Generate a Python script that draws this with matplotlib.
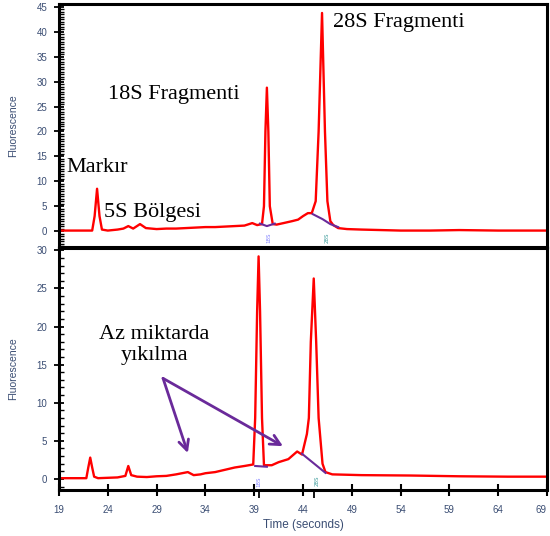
import matplotlib
matplotlib.use("Agg")
import matplotlib.pyplot as plt
from matplotlib.ticker import MultipleLocator, FixedLocator

# ---------------- data ----------------
top_t = [19.0, 22.4, 22.65, 22.9, 23.15, 23.4, 24.0, 25.0, 25.6, 26.1, 26.6, 27.3, 27.9,
         29.0, 30.0, 31.0, 32.0, 33.0, 34.0, 35.0, 36.0, 37.0, 38.0, 38.8, 39.3, 39.8,
         40.0, 40.15, 40.3, 40.45, 40.6, 40.9, 41.3, 42.0, 42.9, 43.5, 44.0, 44.5, 44.9,
         45.3, 45.6, 45.95, 46.25, 46.5, 46.8, 47.1, 47.6, 48.5, 50.0, 52.0, 54.0, 57.0,
         60.0, 64.0, 69.0]
top_v = [0.1, 0.1, 3.0, 8.5, 3.0, 0.3, 0.1, 0.3, 0.5, 1.0, 0.5, 1.4, 0.6,
         0.4, 0.5, 0.5, 0.6, 0.7, 0.8, 0.8, 0.9, 1.0, 1.1, 1.6, 1.2, 1.4,
         5.0, 20.0, 28.8, 20.0, 5.0, 1.4, 1.3, 1.6, 2.0, 2.3, 3.0, 3.6, 3.6,
         6.0, 20.0, 43.8, 20.0, 6.0, 2.0, 1.2, 0.6, 0.4, 0.3, 0.2, 0.1, 0.1,
         0.2, 0.1, 0.1]

bot_t = [19.0, 21.8, 22.0, 22.2, 22.4, 22.6, 23.0, 24.0, 25.0, 25.8, 26.1, 26.4, 27.0,
         28.0, 29.0, 30.0, 31.0, 32.2, 32.8, 33.5, 34.0, 35.0, 36.0, 37.0, 38.0, 38.9,
         39.1, 39.3, 39.45, 39.6, 39.8, 40.0, 40.8, 41.5, 42.5, 43.4, 43.9, 44.4, 44.6,
         44.8, 45.1, 45.35, 45.6, 46.0, 46.3, 47.0, 50.0, 55.0, 60.0, 65.0, 69.0]
bot_v = [0.1, 0.1, 1.5, 2.8, 1.5, 0.3, 0.1, 0.15, 0.2, 0.4, 1.7, 0.5, 0.3,
         0.25, 0.35, 0.4, 0.6, 0.9, 0.5, 0.6, 0.75, 0.9, 1.2, 1.5, 1.7, 1.9,
         8.0, 22.0, 29.2, 22.0, 8.0, 1.8, 1.8, 2.2, 2.6, 3.6, 3.2, 5.9, 8.0,
         18.0, 26.3, 18.0, 8.0, 2.0, 0.9, 0.6, 0.5, 0.45, 0.35, 0.3, 0.3]

# integration baselines (purple)
top_base18_t = [39.6, 40.3, 41.1]
top_base18_v = [1.5, 1.0, 1.5]
top_base28_t = [45.0, 46.0, 46.8, 47.6]
top_base28_v = [3.4, 2.4, 1.4, 0.8]
bot_base18_t = [39.1, 40.3]
bot_base18_v = [1.7, 1.6]
bot_base28_t = [43.9, 46.3]
bot_base28_v = [3.3, 0.8]

peak_times_bot = [39.45, 45.1]

x_ticks = [19, 24, 29, 34, 39, 44, 49, 54, 59, 64, 69]
top_yticks = [0, 5, 10, 15, 20, 25, 30, 35, 40, 45]
bot_yticks = [0, 5, 10, 15, 20, 25, 30]

# ---------------- figure ----------------
RED = "#ff0000"
PURPLE = "#6a2a9a"
TICKC = "#3a4d73"

fig = plt.figure(figsize=(5.5, 5.36), dpi=100)
ax1 = fig.add_axes([59/550, 1-247/536, 488/550, 243/536])
ax2 = fig.add_axes([59/550, 1-490/536, 488/550, 242/536])

for ax in (ax1, ax2):
    ax.set_xlim(19, 69)
    for s in ax.spines.values():
        s.set_linewidth(2.2)
        s.set_color("black")
    ax.tick_params(axis="y", which="major", direction="inout", length=7, width=1.3,
                   labelsize=7, labelcolor=TICKC, pad=5)
    ax.tick_params(axis="y", which="minor", direction="in", length=3.5, width=1.0)
    ax.set_ylabel("Fluorescence", fontsize=7.5, color=TICKC, family="Liberation Sans")

# top panel
ax1.plot(top_t, top_v, color=RED, lw=1.7, solid_joinstyle="round")
ax1.plot(top_base18_t, top_base18_v, color=PURPLE, lw=1.5)
ax1.plot(top_base28_t, top_base28_v, color=PURPLE, lw=1.5)
ax1.set_ylim(-3.2, 45.6)
ax1.yaxis.set_major_locator(FixedLocator(top_yticks))
ax1.yaxis.set_minor_locator(MultipleLocator(0.5))
ax1.set_xticks([])
ax1.yaxis.set_label_coords(-0.083, 0.5)
for lab in ax1.get_yticklabels():
    lab.set_family("Liberation Sans")
ax1.text(40.5, -0.3, "18S", rotation=90, fontsize=4, color="#8080ff", ha="center", va="top")
ax1.text(46.5, -0.3, "28S", rotation=90, fontsize=4, color="#3a9a9a", ha="center", va="top")

serif = dict(family="Liberation Serif", fontsize=16, color="black")
ax1.text(47.1, 41.9, "28S Fragmenti", ha="left", va="center", **serif)
ax1.text(24.0, 27.4, "18S Fragmenti", ha="left", va="center", **serif)
ax1.text(19.8, 12.8, "Markır", ha="left", va="center", **serif)
ax1.text(23.6, 3.7, "5S Bölgesi", ha="left", va="center", **serif)

# bottom panel
ax2.plot(bot_t, bot_v, color=RED, lw=1.7, solid_joinstyle="round")
ax2.plot(bot_base18_t, bot_base18_v, color=PURPLE, lw=1.5)
ax2.plot(bot_base28_t, bot_base28_v, color=PURPLE, lw=1.5)
ax2.set_ylim(-1.45, 30.3)
ax2.yaxis.set_major_locator(FixedLocator(bot_yticks))
ax2.yaxis.set_minor_locator(MultipleLocator(1))
ax2.set_xticks(x_ticks)
ax2.set_xticks(peak_times_bot, minor=True)
ax2.tick_params(axis="x", which="major", direction="inout", length=9, width=1.5,
                labelsize=7, labelcolor=TICKC, pad=6)
ax2.tick_params(axis="x", which="minor", direction="out", length=6, width=1.3)
for lab in ax2.get_xticklabels() + ax2.get_yticklabels():
    lab.set_family("Liberation Sans")
ax2.get_xticklabels()[-1].set_horizontalalignment("right")
ax2.set_xlabel("Time (seconds)", fontsize=8.5, color=TICKC, family="Liberation Sans", labelpad=3)
ax2.yaxis.set_label_coords(-0.083, 0.5)
ax2.text(39.45, 0.3, "18S", rotation=90, fontsize=4, color="#8080ff", ha="center", va="top")
ax2.text(45.4, 0.4, "28S", rotation=90, fontsize=4, color="#3a9a9a", ha="center", va="top")

ax2.text(28.8, 17.6, "Az miktarda\nyıkılma", ha="center", va="center",
         linespacing=1.15, **serif)
arrow = dict(arrowstyle="->", color=PURPLE, lw=2, mutation_scale=18, shrinkA=0, shrinkB=0)
ax2.annotate("", xy=(32.2, 3.4), xytext=(29.66, 13.2), arrowprops=arrow)
ax2.annotate("", xy=(41.95, 4.3), xytext=(29.66, 13.2), arrowprops=arrow)

fig.savefig("out.png", dpi=100)
